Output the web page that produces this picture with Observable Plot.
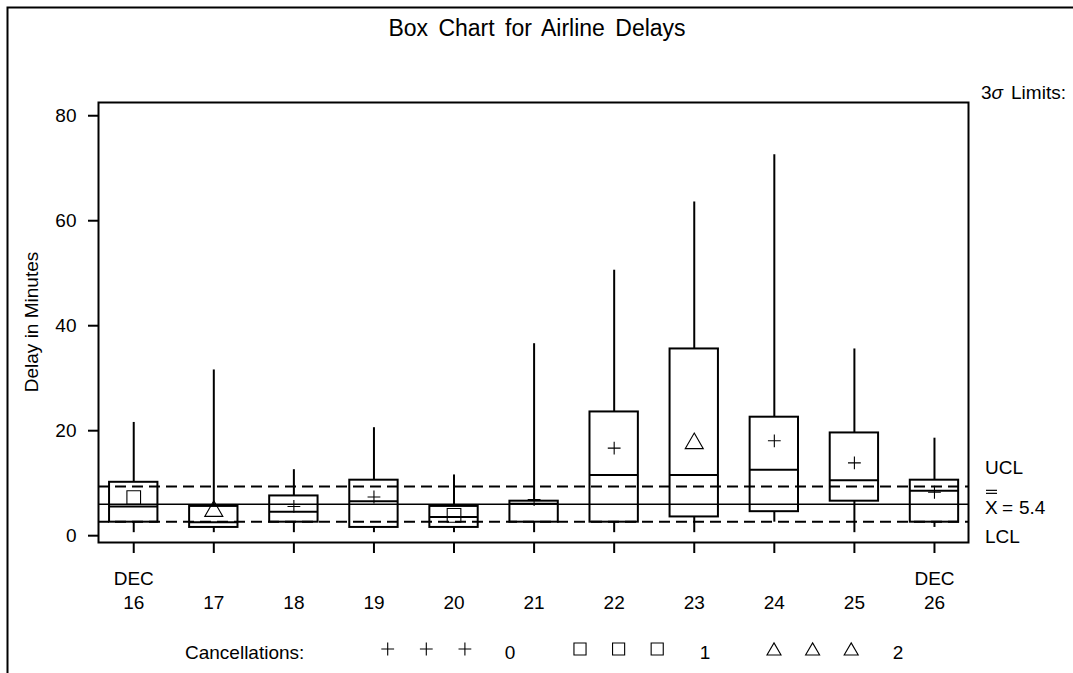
<!DOCTYPE html>
<html>
<head>
<meta charset="utf-8">
<script src="https://cdn.jsdelivr.net/npm/d3@7"></script>
<script src="https://cdn.jsdelivr.net/npm/@observablehq/plot@0.6"></script>
<style>
  html, body { margin: 0; padding: 0; background: #fff; overflow: hidden; }
  #chart { position: relative; width: 1073px; height: 673px; }
</style>
</head>
<body>
<div id="chart"></div>
<script>
// ---- data ----
const days          = [16, 17, 18, 19, 20, 21, 22, 23, 24, 25, 26];
const mins          = [0, 0, 0, 0, 0, 0, 0, 0, 2, 0, 1];
const q1s           = [2, 1, 2, 1, 1, 2, 2, 3, 4, 6, 2];
const medians       = [5, 2, 4, 6, 3, 5.5, 11, 11, 12, 10, 8];
const q3s           = [9.6, 5, 7, 10, 5, 6, 23, 35, 22, 19, 10];
const maxs          = [21, 31, 12, 20, 11, 36, 50, 63, 72, 35, 18];
const means         = [6.7, 4.1, 5.0, 6.8, 3.3, 6.3, 16.1, 17.0, 17.5, 13.3, 7.7];
const cancellations = [1, 2, 0, 0, 1, 0, 0, 2, 0, 0, 0];
const yTicks        = [0, 20, 40, 60, 80];
const decTicks      = [16, 26];
const xbar = 5.4;
const ucl  = 8.8;
const lcl  = 2.1;
const cancelLevels  = [0, 1, 2];
const cancelSymbols = ["plus", "square", "triangle"];

const FONT = "'Liberation Sans', Arial, Helvetica, sans-serif";
const data = days.map((day, i) => ({
  day, min: mins[i], q1: q1s[i], median: medians[i], q3: q3s[i],
  max: maxs[i], mean: means[i], cancel: cancellations[i]
}));

const half = 0.302;              // half box width, in days
const symR = {plus: 4.2, square: 7.7, triangle: 6.7};
const dash = "11,6";

const plot = Plot.plot({
  width: 1073,
  height: 673,
  marginLeft: 98,
  marginRight: 105,
  marginTop: 102,
  marginBottom: 131,
  style: {fontFamily: FONT, fontSize: "19px", color: "black", background: "white", overflow: "visible"},
  x: {type: "linear", domain: [15.56, 26.425]},
  y: {domain: [-1.87, 81.95]},
  marks: [
    Plot.ruleY([ucl], {stroke: "black", strokeWidth: 2, strokeDasharray: dash}),
    Plot.ruleY([lcl], {stroke: "black", strokeWidth: 2, strokeDasharray: dash}),
    Plot.ruleY([xbar], {stroke: "black", strokeWidth: 1.5}),
    Plot.ruleX(data, {x: "day", y1: "q3", y2: "max", stroke: "black", strokeWidth: 2}),
    Plot.ruleX(data, {x: "day", y1: "min", y2: "q1", stroke: "black", strokeWidth: 2}),
    Plot.rect(data, {
      x1: d => d.day - half, x2: d => d.day + half, y1: "q1", y2: "q3",
      fill: "none", stroke: "black", strokeWidth: 2
    }),
    Plot.ruleY(data, {y: "median", x1: d => d.day - half, x2: d => d.day + half, stroke: "black", strokeWidth: 2}),
    ...cancelLevels.map((lvl, k) =>
      Plot.dot(data.filter(d => d.cancel === lvl), {
        x: "day", y: "mean", symbol: cancelSymbols[k], r: symR[cancelSymbols[k]],
        stroke: "black", fill: "none", strokeWidth: 1.1
      })
    ),
    Plot.frame({stroke: "black", strokeWidth: 2}),
    Plot.axisY({ticks: yTicks, tickSize: 10, tickPadding: 12, dy: 3, label: null, strokeWidth: 2}),
    Plot.axisX({ticks: days, tickSize: 11, tickPadding: 42, tickFormat: d => String(d), label: null, strokeWidth: 2}),
    Plot.axisX({ticks: decTicks, tickSize: 0, tickPadding: 29, tickFormat: () => "DEC", label: null})
  ]
});

document.getElementById("chart").appendChild(plot);

// ---- annotations, outer frame, legend ----
const svg = d3.select(plot);
const ys = plot.scale("y");
const g = svg.append("g").attr("font-family", FONT).attr("fill", "black").attr("text-anchor", "start");

// outer frame (only top and left edges visible in the reference)
g.append("path").attr("d", "M7.5,673V7.5H1073").attr("fill", "none").attr("stroke", "black").attr("stroke-width", 2);

// title
g.append("text").attr("x", 537).attr("y", 36).attr("text-anchor", "middle")
  .attr("font-size", 23).attr("word-spacing", 4).text("Box Chart for Airline Delays");

// 3 sigma limits header
const lim = g.append("text").attr("x", 981).attr("y", 99).attr("font-size", 19);
lim.append("tspan").text("3");
lim.append("tspan").attr("font-style", "italic").text("\u03C3");
lim.append("tspan").attr("dx", 8).text("Limits:");

// limit labels
const yU = ys.apply(ucl), yM = ys.apply(xbar), yL = ys.apply(lcl);
g.append("text").attr("x", 985).attr("y", yU - 12).attr("font-size", 19).text("UCL");
g.append("text").attr("x", 985).attr("y", yM + 10).attr("font-size", 19).text("X");
g.append("line").attr("x1", 986).attr("x2", 997).attr("y1", yM - 13.5).attr("y2", yM - 13.5).attr("stroke", "black").attr("stroke-width", 1.2);
g.append("line").attr("x1", 986).attr("x2", 997).attr("y1", yM - 10.5).attr("y2", yM - 10.5).attr("stroke", "black").attr("stroke-width", 1.2);
g.append("text").attr("x", 1002).attr("y", yM + 10).attr("font-size", 19).text("=");
g.append("text").attr("x", 1019).attr("y", yM + 10).attr("font-size", 19).text(String(xbar));
g.append("text").attr("x", 985).attr("y", yL + 22).attr("font-size", 19).text("LCL");

// y axis label
g.append("text").attr("transform", "translate(37.5,322) rotate(-90)").attr("text-anchor", "middle")
  .attr("font-size", 19).text("Delay in Minutes");

// legend
g.append("text").attr("x", 185).attr("y", 659).attr("font-size", 19).text("Cancellations:");
const legendStart = [387.7, 580, 774];
const legendLabelX = [510, 705, 898];
const d3Sym = {plus: d3.symbolPlus, square: d3.symbolSquare2, triangle: d3.symbolTriangle2};
cancelLevels.forEach((lvl, k) => {
  const name = cancelSymbols[k];
  const path = d3.symbol(d3Sym[name], Math.PI * symR[name] * symR[name])();
  for (let j = 0; j < 3; j++) {
    g.append("path").attr("d", path)
      .attr("transform", `translate(${legendStart[k] + j * 38.6},${name === "triangle" ? 651 : 649})`)
      .attr("fill", "none").attr("stroke", "black").attr("stroke-width", 1.1);
  }
  g.append("text").attr("x", legendLabelX[k]).attr("y", 659).attr("text-anchor", "middle")
    .attr("font-size", 19).text(String(lvl));
});
</script>
</body>
</html>
